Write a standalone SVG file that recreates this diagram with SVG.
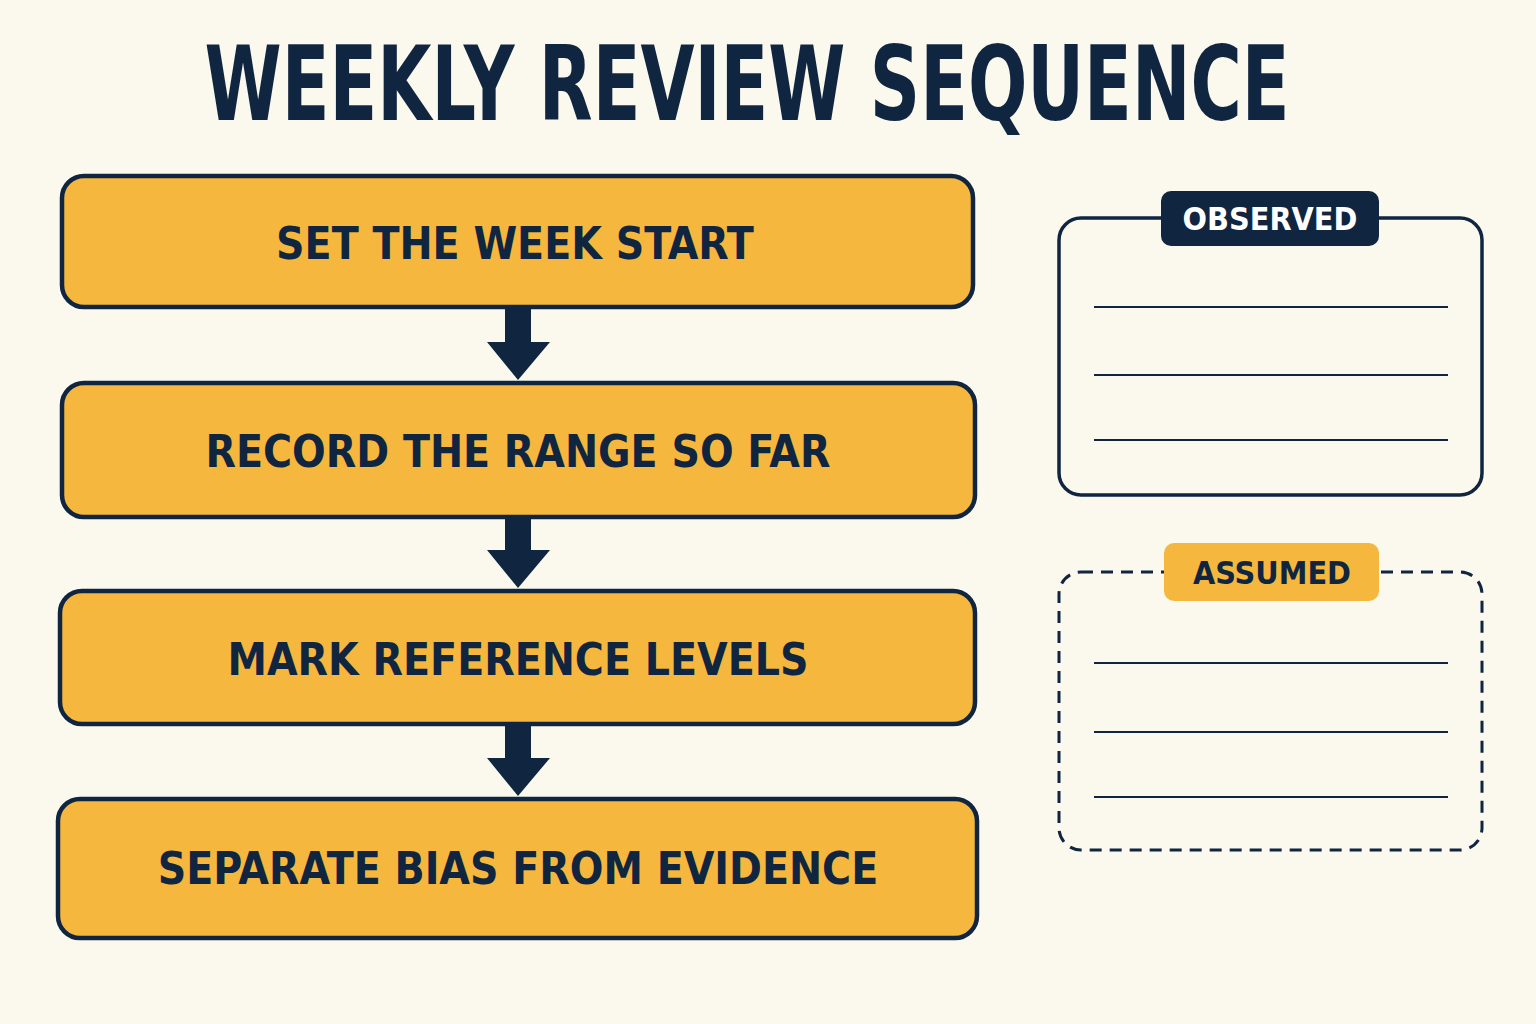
<svg xmlns="http://www.w3.org/2000/svg" width="1536" height="1024" viewBox="0 0 1536 1024">
<style>
.step rect{fill:#F5B73E;stroke:#0F2540;stroke-width:4.5}
.step text{font-family:"DejaVu Sans Condensed","Liberation Sans",sans-serif;font-weight:bold;font-size:44px;fill:#0F2540;text-anchor:middle}
.arrow{fill:#0F2540}
.line{stroke:#0F2540;stroke-width:2}
.tab{font-family:"DejaVu Sans Condensed","Liberation Sans",sans-serif;font-weight:bold;font-size:32px;text-anchor:middle}
</style>
<rect width="1536" height="1024" fill="#FBF8EE"/>
<text x="747" y="120" font-family="DejaVu Sans Condensed,Liberation Sans,sans-serif" font-weight="bold" font-size="104" fill="#0F2540" text-anchor="middle" textLength="1085" lengthAdjust="spacingAndGlyphs">WEEKLY REVIEW SEQUENCE</text>
<g id="connectors">
<path class="arrow" d="M505 307H531V342H550L518 380L487 342H505Z"/>
<path class="arrow" d="M505 517H531V550H550L518 588L487 550H505Z"/>
<path class="arrow" d="M505 724H531V758H550L518 796L487 758H505Z"/>
</g>
<g id="step1" class="step"><rect x="62" y="176" width="911" height="131" rx="22"/><text x="515" y="259">SET THE WEEK START</text></g>
<g id="step2" class="step"><rect x="62" y="383" width="913" height="134" rx="22"/><text x="518" y="467">RECORD THE RANGE SO FAR</text></g>
<g id="step3" class="step"><rect x="60" y="591" width="915" height="133" rx="22"/><text x="518" y="675">MARK REFERENCE LEVELS</text></g>
<g id="step4" class="step"><rect x="58" y="799" width="919" height="139" rx="22"/><text x="518" y="884">SEPARATE BIAS FROM EVIDENCE</text></g>
<g id="observed">
<rect x="1059" y="218" width="423" height="277" rx="22" fill="none" stroke="#0F2540" stroke-width="3.5"/>
<rect x="1161" y="191" width="218" height="55" rx="10" fill="#0F2540"/>
<text class="tab" x="1270" y="230" fill="#FFFFFF">OBSERVED</text>
<line class="line" x1="1094" y1="307" x2="1448" y2="307"/>
<line class="line" x1="1094" y1="375" x2="1448" y2="375"/>
<line class="line" x1="1094" y1="440" x2="1448" y2="440"/>
</g>
<g id="assumed">
<rect x="1059" y="572" width="423" height="278" rx="22" fill="none" stroke="#0F2540" stroke-width="3" stroke-dasharray="12 8"/>
<rect x="1164" y="543" width="215" height="58" rx="10" fill="#F5B73E"/>
<text class="tab" x="1272" y="584" fill="#0F2540">ASSUMED</text>
<line class="line" x1="1094" y1="663" x2="1448" y2="663"/>
<line class="line" x1="1094" y1="732" x2="1448" y2="732"/>
<line class="line" x1="1094" y1="797" x2="1448" y2="797"/>
</g>
</svg>
